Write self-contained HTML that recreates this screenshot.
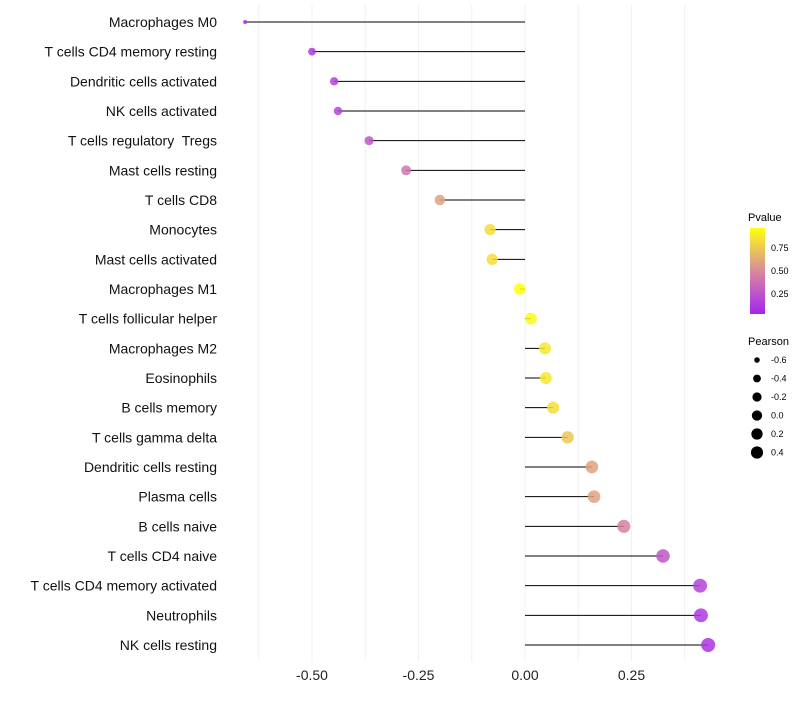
<!DOCTYPE html>
<html><head><meta charset="utf-8"><style>
body{margin:0;background:#fff;font-family:"Liberation Sans",sans-serif}
text{white-space:pre}
</style></head><body>
<svg id="c" width="800" height="700" xmlns="http://www.w3.org/2000/svg">
<defs><linearGradient id="pg" x1="0" y1="1" x2="0" y2="0">
<stop offset="0" stop-color="#a424f0"/><stop offset="0.5" stop-color="#d98a9c"/><stop offset="1" stop-color="#ffff10"/></linearGradient></defs>
<g id="grid"></g><g id="marks"></g><g id="labels"></g><g id="xt"></g>
<g font-size="9">
<text x="748" y="221" font-size="11">Pvalue</text>
<rect x="750" y="228" width="15" height="86" fill="url(#pg)"/>
<text x="771" y="251">0.75</text><text x="771" y="274">0.50</text><text x="771" y="297">0.25</text>
</g>
<g id="sleg" font-size="9">
<text x="748" y="345" font-size="11">Pearson</text>
</g>
</svg>
<script>
const categories=["Macrophages M0","T cells CD4 memory resting","Dendritic cells activated","NK cells activated","T cells regulatory  Tregs","Mast cells resting","T cells CD8","Monocytes","Mast cells activated","Macrophages M1","T cells follicular helper","Macrophages M2","Eosinophils","B cells memory","T cells gamma delta","Dendritic cells resting","Plasma cells","B cells naive","T cells CD4 naive","T cells CD4 memory activated","Neutrophils","NK cells resting"];
const pearson=[-0.657,-0.50,-0.448,-0.439,-0.366,-0.279,-0.20,-0.082,-0.077,-0.012,0.014,0.047,0.049,0.066,0.10,0.157,0.162,0.232,0.324,0.411,0.413,0.43];
const pvalue=[0.03,0.1,0.15,0.15,0.25,0.4,0.6,0.85,0.85,1.0,0.98,0.9,0.9,0.85,0.75,0.6,0.6,0.45,0.25,0.15,0.1,0.08];
const xTicks=[-0.5,-0.25,0,0.25];
const xTickLabels=["-0.50","-0.25","0.00","0.25"];
const sizeLegend=[-0.6,-0.4,-0.2,0.0,0.2,0.4];
const NS="http://www.w3.org/2000/svg";
const x=v=>525+v*426;
const y=i=>22+i*(623/21);
const r=v=>2+5*Math.sqrt(Math.max(0,(v+0.657)/1.087));
function lerp(a,b,t){return a.map((c,k)=>Math.round(c+(b[k]-c)*t));}
function col(p){const A=[164,36,240],B=[217,138,156],C=[255,255,16];
 const c=p<0.5?lerp(A,B,p/0.5):lerp(B,C,(p-0.5)/0.5);return `rgb(${c})`;}
function mk(t,a,parent){const e=document.createElementNS(NS,t);for(const k in a)e.setAttribute(k,a[k]);document.getElementById(parent).appendChild(e);return e;}
for(let v=-0.625;v<=0.376;v+=0.125){
 const g=mk('line',{x1:x(v),x2:x(v),y1:5,y2:662,stroke:'#f0f0f0','stroke-width':1},'grid');
 
 
}
xTicks.forEach((v,i)=>{
 const t=mk('text',{x:x(v),y:680,'text-anchor':'middle','font-size':14,fill:'#222'},'xt');t.textContent=xTickLabels[i];
 
 
});
categories.forEach((c,i)=>{
 const t=mk('text',{x:217,y:y(i)+5,'text-anchor':'end','font-size':14,fill:'#111'},'labels');t.textContent=c;
 
 
 const l=mk('line',{x1:x(0),x2:x(pearson[i]),y1:y(i),y2:y(i),stroke:'#000','stroke-width':1},'marks');
 
 
 const p=mk('circle',{cx:x(pearson[i]),cy:y(i),r:r(pearson[i]),fill:col(pvalue[i]),'fill-opacity':0.85},'marks');
 
 
});
sizeLegend.forEach((v,i)=>{
 const cy=360+i*18.5;
 const c=mk('circle',{cx:757,cy:cy,r:r(v)*0.88,fill:'#000'},'sleg');
 
 
 const t=mk('text',{x:771,y:cy+3},'sleg');t.textContent=v.toFixed(1);
 
 
});
</script>
</body></html>
